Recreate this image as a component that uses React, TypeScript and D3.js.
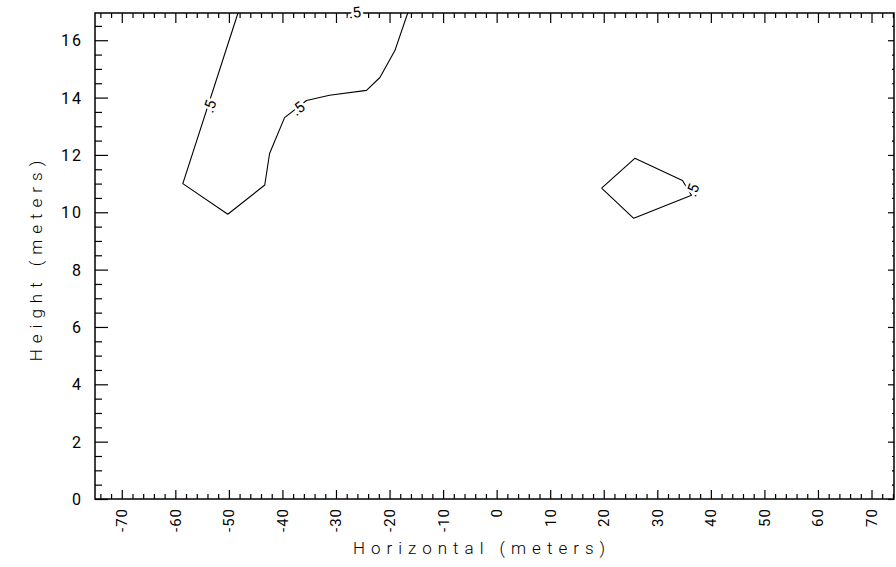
import React, {useEffect, useRef} from 'react';
import * as d3 from 'd3';

// Axis ticks
const xMajorTicks = [-70, -60, -50, -40, -30, -20, -10, 0, 10, 20, 30, 40, 50, 60, 70];
const xMinorTicks = [
  -74, -72, -68, -66, -64, -62, -58, -56, -54, -52, -48, -46, -44, -42, -38, -36, -34, -32,
  -28, -26, -24, -22, -18, -16, -14, -12, -8, -6, -4, -2, 2, 4, 6, 8, 12, 14, 16, 18, 22, 24,
  26, 28, 32, 34, 36, 38, 42, 44, 46, 48, 52, 54, 56, 58, 62, 64, 66, 68, 72, 74,
];
const yMajorTicks = [0, 2, 4, 6, 8, 10, 12, 14, 16];
const yMinorTicks = [
  0.5, 1, 1.5, 2.5, 3, 3.5, 4.5, 5, 5.5, 6.5, 7, 7.5, 8.5, 9, 9.5, 10.5, 11, 11.5, 12.5, 13,
  13.5, 14.5, 15, 15.5, 16.5,
];

// Contour 0.5, open line reaching the top edge
const contourAX = [-48.3, -58.6, -50.2, -43.3, -42.4, -39.6, -35.5, -31.2, -24.3, -21.8, -19.0, -16.6];
const contourAY = [16.95, 11.0, 9.93, 10.95, 12.05, 13.3, 13.9, 14.08, 14.25, 14.7, 15.64, 16.95];

// Contour 0.5, closed loop on the right
const contourBX = [19.6, 25.8, 34.7, 36.4, 25.6, 19.6];
const contourBY = [10.84, 11.88, 11.11, 10.59, 9.79, 10.84];

// Contour labels
const labelText = ['.5', '.5', '.5', '.5'];
const labelX = [-53.6, -37.1, -26.5, 36.6];
const labelY = [13.7, 13.62, 16.97, 10.77];
const labelAngle = [-72, -38, -8, -70];

const FONT = 'Roboto, "DejaVu Sans", sans-serif';

export default function App() {
  const svgRef = useRef<SVGSVGElement>(null);

  useEffect(() => {
    if (!svgRef.current) return;
    const svg = d3.select(svgRef.current);
    svg.selectAll('*').remove();

    const left = 95;
    const right = 894;
    const top = 13;
    const bottom = 499;

    const x = d3.scaleLinear().domain([-75, 74.2]).range([left, right]);
    const y = d3.scaleLinear().domain([0, 16.95]).range([bottom, top]);

    svg.append('rect').attr('width', 896).attr('height', 567).attr('fill', '#fff');

    const g = svg.append('g');

    // Ticks pointing inward on all four sides
    const styleAxis = (sel: d3.Selection<SVGGElement, unknown, null, undefined>) => {
      sel.select('.domain').remove();
      sel.selectAll('line').attr('stroke', '#000').attr('stroke-width', 1.2);
    };

    const addAxis = (axis: d3.Axis<d3.NumberValue>, tx: number, ty: number) => {
      g.append('g')
        .attr('transform', `translate(${tx},${ty})`)
        .call(axis.tickFormat(() => ''))
        .call(styleAxis);
    };

    addAxis(d3.axisBottom(x).tickValues(xMajorTicks).tickSize(-9), 0, bottom);
    addAxis(d3.axisBottom(x).tickValues(xMinorTicks).tickSize(-5), 0, bottom);
    addAxis(d3.axisTop(x).tickValues(xMajorTicks).tickSize(-10), 0, top);
    addAxis(d3.axisTop(x).tickValues(xMinorTicks).tickSize(-5), 0, top);
    addAxis(d3.axisLeft(y).tickValues(yMajorTicks).tickSize(-13), left, 0);
    addAxis(d3.axisLeft(y).tickValues(yMinorTicks).tickSize(-7), left, 0);
    addAxis(d3.axisRight(y).tickValues(yMajorTicks).tickSize(-6), right, 0);
    addAxis(d3.axisRight(y).tickValues(yMinorTicks).tickSize(-2), right, 0);

    // Frame
    g.append('rect')
      .attr('x', left)
      .attr('y', top)
      .attr('width', right - left)
      .attr('height', bottom - top)
      .attr('fill', 'none')
      .attr('stroke', '#000')
      .attr('stroke-width', 1.5);

    // Tick labels
    g.selectAll('.xlab')
      .data(xMajorTicks)
      .enter()
      .append('text')
      .attr('transform', (d) => `translate(${x(d) + 5.5},508) rotate(-90)`)
      .attr('text-anchor', 'end')
      .attr('letter-spacing', 1)
      .attr('font-family', FONT)
      .attr('font-size', 15)
      .text((d) => String(d));

    g.selectAll('.ylab')
      .data(yMajorTicks)
      .enter()
      .append('text')
      .attr('x', 83)
      .attr('y', (d) => y(d) + 6)
      .attr('text-anchor', 'end')
      .attr('letter-spacing', 2)
      .attr('font-family', FONT)
      .attr('font-size', 16)
      .text((d) => String(d));

    // Axis titles
    g.append('text')
      .attr('x', 482)
      .attr('y', 554)
      .attr('text-anchor', 'middle')
      .attr('letter-spacing', 6)
      .attr('font-family', FONT)
      .attr('font-weight', 300)
      .attr('font-size', 17)
      .text('Horizontal (meters)');

    g.append('text')
      .attr('transform', `translate(42,258) rotate(-90)`)
      .attr('text-anchor', 'middle')
      .attr('letter-spacing', 6)
      .attr('font-family', FONT)
      .attr('font-weight', 300)
      .attr('font-size', 17)
      .text('Height (meters)');

    // Contours
    const drawContour = (xs: number[], ys: number[]) => {
      const pts: [number, number][] = xs.map((v, i) => [x(v), y(ys[i])]);
      g.append('path')
        .attr('d', d3.line()(pts))
        .attr('fill', 'none')
        .attr('stroke', '#000')
        .attr('stroke-width', 1.1)
        .attr('stroke-linejoin', 'round');
    };
    drawContour(contourAX, contourAY);
    drawContour(contourBX, contourBY);

    g.selectAll('.clab')
      .data(labelText)
      .enter()
      .append('text')
      .attr('transform', (_, i) => `translate(${x(labelX[i])},${y(labelY[i])}) rotate(${labelAngle[i]})`)
      .attr('text-anchor', 'middle')
      .attr('dy', '0.35em')
      .attr('font-family', FONT)
      .attr('font-size', 15)
      .attr('stroke', '#fff')
      .attr('stroke-width', 5)
      .attr('paint-order', 'stroke')
      .attr('fill', '#000')
      .text((d) => d);
  }, []);

  return (
    <svg
      ref={svgRef}
      width={896}
      height={567}
      style={{position: 'absolute', left: 0, top: 0, display: 'block'}}
    />
  );
}
